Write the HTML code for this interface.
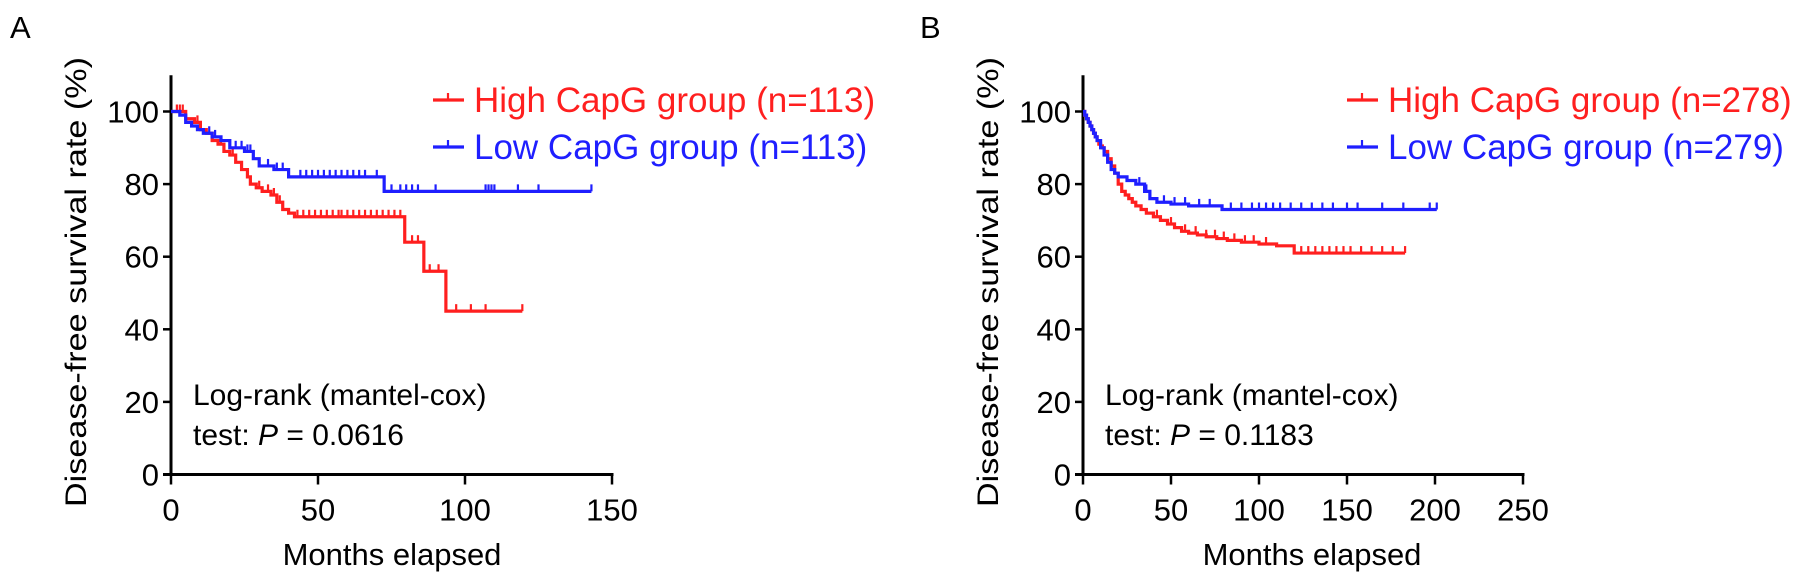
<!DOCTYPE html>
<html><head><meta charset="utf-8"><style>
html,body{margin:0;padding:0;background:#fff;}
svg{display:block;font-family:"Liberation Sans",Arial,sans-serif;}
</style></head><body>
<svg id="fig" width="1795" height="586" viewBox="0 0 1795 586">
<text x="10" y="38" font-size="31" fill="#000">A</text>
<text x="920" y="38" font-size="31" fill="#000">B</text>
<g id="pa"></g>
<g id="pb"></g>
</svg>
<script>
// Panel A data
const aXTicks = [0, 50, 100, 150];
const aYTicks = [0, 20, 40, 60, 80, 100];
const aHighTimes = [5,8,10,12,14,16,18,20,22,24,26,27,29,31,34,36,38,40,42,79.5,86,93.5];
const aHighSurv  = [98,97,95,94,92,91,89,88,86,84,82,80,79,78,77,75,73,72,71,64,56,45];
const aHighEnd = 119.5;
const aHighCensor = [2,3,4,9,17,21,30,33,35,37,43,45,47,49,51,53,55,57,58,60,62,64,66,68,70,72,74,76,78,82,84,88,91,97,102,107,119.5];
const aLowTimes = [3,5,7,9,11,14,17,20,25,28,30,35,40,72.5];
const aLowSurv  = [99,97,96,95,94,93,92,90,89,87,85,84,82,78];
const aLowEnd = 143;
const aLowCensor = [13,15,22,24,26,27,33,36,38,44,46,48,50,52,54,56,58,60,62,64,66,70,75,78,80,82,84,90,107,108,109,110,118,125,143];
// Panel B data
const bXTicks = [0, 50, 100, 150, 200, 250];
const bYTicks = [0, 20, 40, 60, 80, 100];
const bHighTimes = [1,2,3,4,5,6,7,8,9,10,11,12,14,16,18,20,22,24,26,28,30,33,36,40,44,48,52,56,60,65,70,76,82,90,100,110,120];
const bHighSurv  = [99,98,97,96,95,94,93,92,91,90.5,90,89,87,85,83,80,78,77,76,75,74,73,72,71,70,69,68,67,66.5,66,65.5,65,64.5,64,63.5,63,61];
const bHighEnd = 183;
const bHighCensor = [42,50,58,64,70,75,80,86,92,97,104,124,128,132,136,140,144,148,152,158,164,170,176,183];
const bLowTimes = [1,2,3,4,5,6,7,8,10,12,14,16,18,20,25,30,35,38,42,50,60,79];
const bLowSurv  = [99,98,97,96,95,94,93,92,90,88,86,84,83,82,81,80,78,76,75,74.5,74,73];
const bLowEnd = 201;
const bLowCensor = [32,36,46,52,58,66,72,84,90,96,100,104,108,112,118,124,130,136,142,150,156,170,182,197,201];

const NS = "http://www.w3.org/2000/svg";
function mk(parent, tag, attrs){
  const e = document.createElementNS(NS, tag);
  for (const k in attrs) e.setAttribute(k, attrs[k]);
  parent.appendChild(e); return e;
}
function panel(g, x0, xPerUnit, xMax, xTicks, yTicks, series, legendX, pText, xTitleX){
  const y0 = 474.5, yPer = 3.63;
  const X = v => x0 + v * xPerUnit;
  const Y = v => y0 - v * yPer;
  const ya = mk(g, "line", {x1:X(0), y1:Y(110), x2:X(0), y2:y0+1.5, stroke:"#000", "stroke-width":3});
  
  
  const xa = mk(g, "line", {x1:X(0)-8, y1:y0, x2:X(xMax)+1.5, y2:y0, stroke:"#000", "stroke-width":3});
  
  
  yTicks.forEach(v=>{
    const t = mk(g, "line", {x1:X(0)-8, y1:Y(v), x2:X(0), y2:Y(v), stroke:"#000", "stroke-width":2.5});
    
    
    const l = mk(g, "text", {x:X(0)-12, y:Y(v)+11, "font-size":31, "text-anchor":"end", fill:"#000"});
    l.textContent = v;
    
    
  });
  xTicks.forEach(v=>{
    const t = mk(g, "line", {x1:X(v), y1:y0, x2:X(v), y2:y0+10, stroke:"#000", "stroke-width":2.5});
    
    
    const l = mk(g, "text", {x:X(v), y:y0+46, "font-size":31, "text-anchor":"middle", fill:"#000"});
    l.textContent = v;
    
    
  });
  const xt = mk(g, "text", {x:xTitleX, y:565, "font-size":31, "text-anchor":"middle", fill:"#000"});
  xt.textContent = "Months elapsed";
  
  
  const yx = X(0) - 95;
  const yt = mk(g, "text", {x:yx, y:282, "font-size":30, "text-anchor":"middle", fill:"#000", transform:`rotate(-90 ${yx} 282)`, textLength:450, lengthAdjust:"spacingAndGlyphs"});
  yt.setAttribute('dy', '10');
  yt.textContent = "Disease-free survival rate (%)";
  
  
  series.forEach((s, i)=>{
    let d = `M${X(0)},${Y(100)}`;
    s.times.forEach((t, j)=>{ d += ` H${X(t)} V${Y(s.surv[j])}`; });
    d += ` H${X(s.end)}`;
    const p = mk(g, "path", {d, fill:"none", stroke:s.color, "stroke-width":3.2});
    
    
    s.censor.forEach(c=>{
      let v = 100;
      s.times.forEach((t, j)=>{ if (t <= c) v = s.surv[j]; });
      const m = mk(g, "line", {x1:X(c), y1:Y(v), x2:X(c), y2:Y(v)-7, stroke:s.color, "stroke-width":2.2});
      
      
    });
    const ly = 100 + i*47;
    const ll = mk(g, "line", {x1:legendX, y1:ly, x2:legendX+31, y2:ly, stroke:s.color, "stroke-width":3.2});
    
    
    const lm = mk(g, "line", {x1:legendX+15, y1:ly, x2:legendX+15, y2:ly-7, stroke:s.color, "stroke-width":2.2});
    
    
    const lt = mk(g, "text", {x:legendX+41, y:ly+12, "font-size":35, fill:s.color});
    lt.textContent = s.label;
    
    
  });
  const t1 = mk(g, "text", {x:X(0)+22, y:405, "font-size":30, fill:"#000"});
  t1.textContent = "Log-rank (mantel-cox)";
  
  
  const t2 = mk(g, "text", {x:X(0)+22, y:445, "font-size":30, fill:"#000"});
  t2.innerHTML = 'test: <tspan font-style="italic">P</tspan> = ' + pText;
  
  
}
panel(document.getElementById('pa'), 171, 147/50, 150, aXTicks, aYTicks, [
  {name:'high-capg', label:'High CapG group (n=113)', color:'#ff1f1f', times:aHighTimes, surv:aHighSurv, end:aHighEnd, censor:aHighCensor},
  {name:'low-capg', label:'Low CapG group (n=113)', color:'#1f1fff', times:aLowTimes, surv:aLowSurv, end:aLowEnd, censor:aLowCensor}
], 433, '0.0616', 392);
panel(document.getElementById('pb'), 1083, 88/50, 250, bXTicks, bYTicks, [
  {name:'high-capg', label:'High CapG group (n=278)', color:'#ff1f1f', times:bHighTimes, surv:bHighSurv, end:bHighEnd, censor:bHighCensor},
  {name:'low-capg', label:'Low CapG group (n=279)', color:'#1f1fff', times:bLowTimes, surv:bLowSurv, end:bLowEnd, censor:bLowCensor}
], 1347, '0.1183', 1312);
</script>
</body></html>
